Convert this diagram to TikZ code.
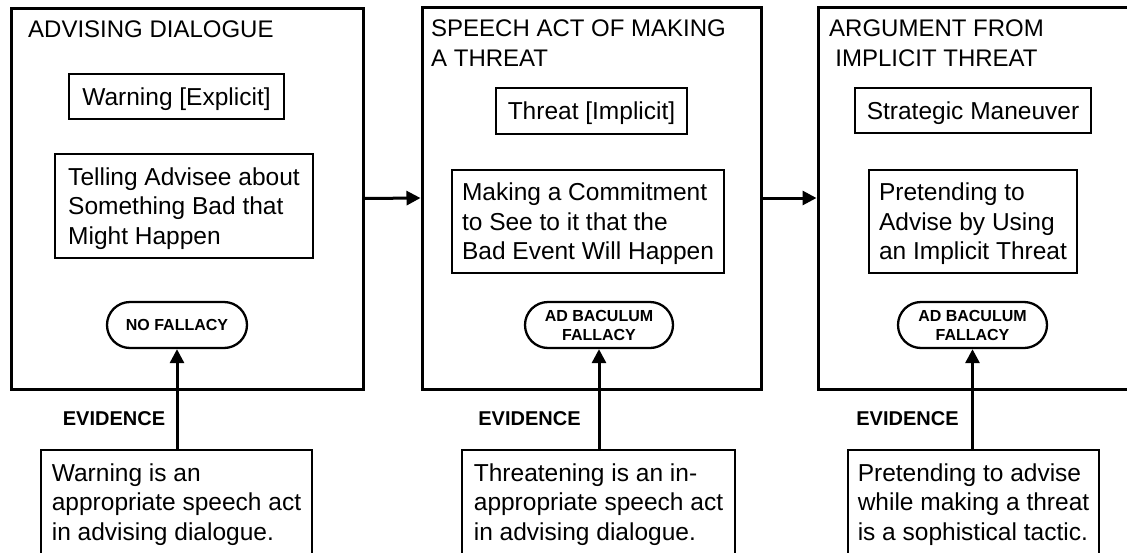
\documentclass[tikz,border=0pt]{standalone}
\usepackage{fontspec}
\setmainfont{Liberation Sans}
\usetikzlibrary{arrows.meta}
\begin{document}
\begin{tikzpicture}[x=1pt,y=-1pt,
  outer/.style={draw, line width=3pt, inner sep=0pt},
  titletext/.style={inner sep=0pt, font=\fontsize{24}{30}\selectfont},
  inbox/.style={draw, line width=2.8pt, inner sep=0pt, text depth=0pt,
    font=\fontsize{24.5}{29.5}\selectfont, align=left},
  verdict/.style={draw, line width=2.3pt, rounded corners=23pt, inner sep=0pt,
    minimum height=46pt, text depth=0pt,
    font=\bfseries\fontsize{16}{19}\selectfont, align=center},
  evlabel/.style={inner sep=0pt, text depth=0pt, font=\bfseries\fontsize{20}{22}\selectfont},
  conn/.style={line width=3pt, -{Triangle[length=14pt,width=14pt]}}
]
\useasboundingbox (0,0) rectangle (1127,552);
\clip (0,0) rectangle (1127,552);

% outer frames
\node[outer, minimum width=352pt, minimum height=381pt] (b1) at (187,198.5) {};
\node[outer, minimum width=339pt, minimum height=382pt] (b2) at (591.5,198) {};
\node[outer, minimum width=330pt, minimum height=382pt] (b3) at (983,198) {};

% titles
\node[titletext, anchor=north west] (h1) at (28,20.8) {ADVISING DIALOGUE};
\node[titletext, anchor=north west, align=left] (h2) at (431,19.8) {SPEECH ACT OF MAKING\\A THREAT};
\node[titletext, anchor=north, align=center] (h3) at (936.5,19.8) {ARGUMENT FROM\\IMPLICIT THREAT};

% column 1
\node[inbox, minimum width=215pt, minimum height=45pt] (w1) at (176.5,96.5) {Warning [Explicit]};
\node[inbox, minimum width=258pt, minimum height=104pt] (t1) at (184,206) {Telling Advisee about\\Something Bad that\\Might Happen};
\node[verdict, minimum width=140pt] (v1) at (177,325) {NO FALLACY};
\node[evlabel] (e1) at (114,419) {EVIDENCE};
\node[inbox, minimum width=271pt, minimum height=104pt] (d1) at (176.5,502) {Warning is an\\appropriate speech act\\in advising dialogue.};

% column 2
\node[inbox, minimum width=191pt, minimum height=46pt] (w2) at (591.5,111) {Threat [Implicit]};
\node[inbox, minimum width=272pt, minimum height=103pt] (t2) at (588,221.5) {Making a Commitment\\to See to it that the\\Bad Event Will Happen};
\node[verdict, minimum width=148pt] (v2) at (599,325) {AD BACULUM\\FALLACY};
\node[evlabel] (e2) at (529.5,419) {EVIDENCE};
\node[inbox, minimum width=273pt, minimum height=104pt] (d2) at (598.5,502) {Threatening is an in-\\appropriate speech act\\in advising dialogue.};

% column 3
\node[inbox, minimum width=236pt, minimum height=45pt] (w3) at (973,110.5) {Strategic Maneuver};
\node[inbox, minimum width=208pt, minimum height=103pt] (t3) at (973,221.5) {Pretending to\\Advise by Using\\an Implicit Threat};
\node[verdict, minimum width=149pt] (v3) at (972.5,325) {AD BACULUM\\FALLACY};
\node[evlabel] (e3) at (907.5,419) {EVIDENCE};
\node[inbox, minimum width=251pt, minimum height=104pt] (d3) at (973.5,502) {Pretending to advise\\while making a threat\\is a sophistical tactic.};

% connectors
\draw[conn] (b1.east) -- (b2.west);
\draw[conn] (b2.east) -- (b3.west);
\draw[conn] (d1.north -| v1.south) -- (v1.south);
\draw[conn] (d2.north -| v2.south) -- (v2.south);
\draw[conn] (d3.north -| v3.south) -- (v3.south);
\end{tikzpicture}
\end{document}
